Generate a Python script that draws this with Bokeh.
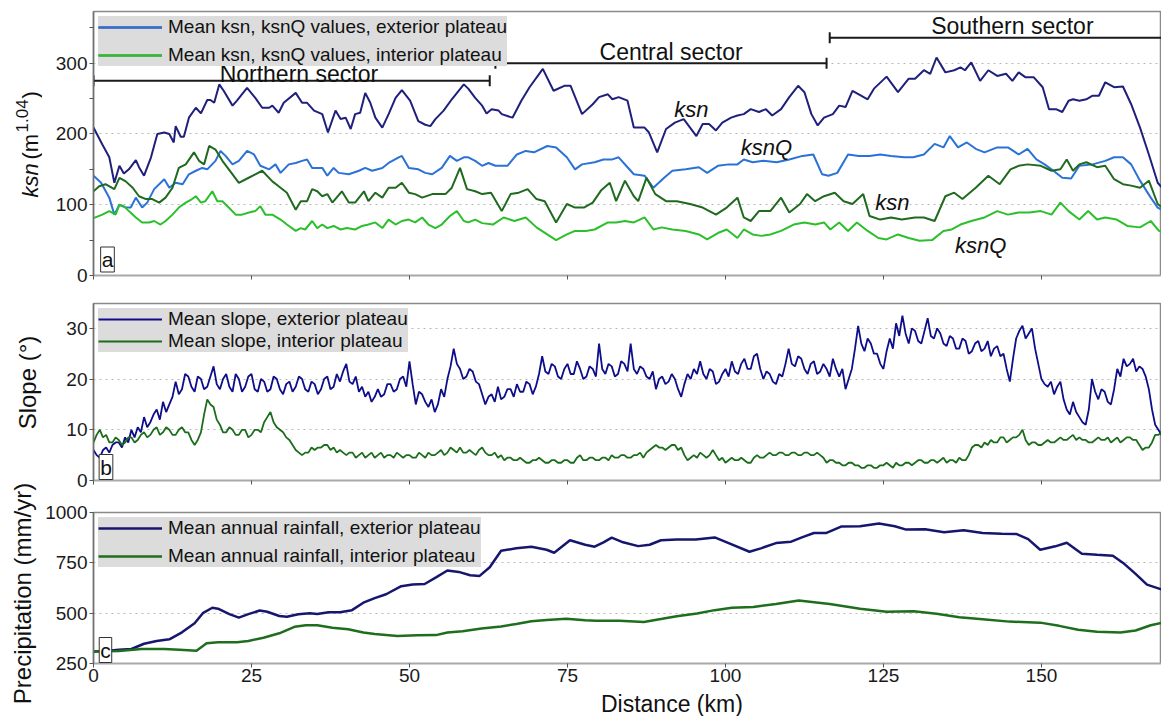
import numpy as np
from bokeh.plotting import figure
from bokeh.layouts import column, row
from bokeh.models import Range1d, FixedTicker, Label, Legend, LegendItem
from bokeh.embed import file_html
from bokeh.resources import INLINE

FONT = "Liberation Sans"

# ---------------- data ----------------
x_ticks = [0, 25, 50, 75, 100, 125, 150]

ksn_ext_km = [0, 1.4, 2.5, 3.3, 4.1, 4.8, 5.6, 6.7, 7.2, 8.0, 9.1, 10.1, 11.2, 12.0, 12.7, 13.0, 13.8, 14.3, 15.1, 16.2, 17.0, 18.0, 18.5, 19.1, 19.9, 20.6, 22.0, 22.7, 24.3, 25.6, 26.7, 27.8, 28.3, 29.3, 30.1, 32.0, 33.0, 33.8, 34.9, 36.2, 37.1, 38.3, 39.1, 39.9, 40.7, 41.4, 42.2, 43.0, 43.8, 44.6, 45.7, 46.7, 47.8, 48.8, 50.1, 51.4, 52.5, 53.3, 54.1, 55.4, 56.7, 58.6, 59.3, 60.4, 61.5, 62.2, 63.0, 64.1, 64.6, 66.3, 67.7, 69, 71.1, 72.8, 74.5, 75.5, 77.3, 79, 80, 81.4, 82.1, 83.1, 84.5, 85.5, 87.2, 87.9, 89.2, 90.6, 92, 93.4, 94.4, 95.4, 96.4, 97.4, 98.5, 99.5, 100.9, 101.9, 102.9, 104, 105.3, 106.4, 107.4, 108.8, 110.1, 111.5, 112.5, 113.6, 114.6, 115.6, 117, 118, 119, 120.1, 121.1, 122.5, 123.5, 125.5, 127.3, 129, 130, 131.4, 132.4, 133.4, 134.8, 136.2, 137.2, 137.9, 138.9, 140.3, 141.6, 143, 144.4, 145.4, 146.4, 147.5, 148.8, 150.2, 151.2, 152.3, 153.3, 154.3, 155, 156, 157.1, 158.1, 159.1, 160.1, 161.5, 162.9, 164.2, 165.6, 167, 168.4, 169]
ksn_ext = [209, 185, 167, 131, 155, 144, 150, 163, 153, 141, 167, 200, 202, 200, 188, 211, 196, 196, 223, 237, 229, 248, 248, 244, 270, 261, 240, 247, 265, 251, 237, 237, 240, 230, 244, 258, 244, 244, 233, 228, 202, 233, 221, 223, 207, 228, 230, 258, 244, 223, 209, 228, 251, 262, 247, 218, 213, 211, 221, 233, 249, 270, 264, 251, 240, 229, 235, 233, 228, 223, 247, 266, 292, 261, 268, 268, 228, 242, 252, 256, 249, 252, 247, 209, 209, 202, 174, 207, 216, 221, 209, 197, 214, 214, 205, 216, 223, 226, 228, 235, 231, 235, 226, 235, 252, 268, 259, 228, 212, 223, 228, 240, 238, 261, 256, 249, 264, 281, 259, 278, 278, 290, 285, 308, 287, 290, 294, 290, 301, 275, 290, 282, 285, 275, 287, 280, 280, 266, 235, 235, 231, 247, 249, 247, 249, 254, 254, 273, 266, 267, 242, 209, 171, 131, 125]

ksnq_ext_km = [0, 1.2, 2.5, 3.3, 4.1, 5.1, 5.9, 6.7, 7.7, 8.5, 9.6, 11.2, 12, 13, 14.1, 15.1, 16.2, 17.2, 18, 19.3, 20.1, 20.9, 22, 23, 24.3, 25.4, 26.4, 27.8, 28.8, 29.6, 30.9, 32, 33, 33.8, 34.6, 36.2, 37, 38, 38.8, 40.4, 42, 43, 44.1, 45.7, 46.7, 48.3, 48.8, 49.9, 51.4, 52.5, 53.6, 55.1, 56.4, 57.5, 58.6, 59.3, 60.4, 61.5, 62.5, 63.6, 65.5, 67, 68.4, 69.7, 71.8, 73.2, 74.9, 76.2, 77.3, 79.3, 80.7, 82.1, 83.1, 84.5, 85.5, 87.2, 88.6, 90.3, 91.6, 93.7, 95.8, 97.1, 98.8, 100.5, 101.9, 102.9, 104.3, 106, 108.1, 110.1, 112.2, 113.9, 115.3, 116.3, 117.7, 119.4, 121.1, 122.8, 124.5, 126.2, 128.3, 129.7, 131.4, 133.1, 134.5, 135.5, 136.8, 138.2, 139.6, 141, 143, 144.7, 146.4, 147.8, 149.2, 150.5, 151.9, 153.3, 154.7, 156, 158.1, 160.1, 161.5, 162.9, 164.2, 165.6, 167.3, 168.4, 169]
ksnq_ext = [141, 131, 110, 86, 100, 96, 96, 110, 96, 103, 122, 136, 124, 131, 129, 143, 148, 152, 150, 162, 176, 169, 157, 162, 176, 171, 155, 150, 157, 145, 157, 159, 162, 164, 152, 152, 141, 152, 145, 143, 148, 152, 148, 152, 159, 167, 169, 152, 150, 145, 143, 152, 169, 162, 167, 167, 162, 155, 159, 155, 155, 171, 176, 174, 183, 181, 167, 150, 157, 160, 164, 164, 167, 153, 143, 141, 124, 138, 148, 150, 153, 145, 155, 157, 157, 164, 160, 162, 160, 164, 169, 171, 143, 141, 145, 171, 169, 169, 171, 169, 167, 167, 171, 186, 181, 197, 181, 188, 179, 174, 181, 181, 171, 179, 164, 157, 148, 138, 137, 155, 157, 162, 167, 167, 157, 134, 110, 96, 93]

ksn_int_km = [0, 0.9, 1.9, 3.3, 4.1, 5.1, 6.2, 7.2, 8.3, 9.3, 10.4, 11.4, 12.5, 13.5, 14.6, 15.9, 16.7, 17.5, 18.3, 19.3, 20.4, 22, 23, 24.1, 25.6, 26.7, 28.3, 29.3, 30.6, 32, 32.8, 33.8, 34.6, 35.4, 36.2, 37, 37.8, 39.3, 40.4, 41.4, 42.8, 43.5, 44.6, 45.7, 46.7, 47.8, 48.8, 49.9, 50.9, 52, 53.6, 55.7, 56.7, 58, 59.1, 60.4, 61.5, 62.9, 64.6, 66, 67.3, 68.7, 70.1, 71.4, 73.2, 74.9, 76.2, 77.6, 79, 80.3, 81.7, 82.7, 84.1, 85.5, 86.2, 87.5, 88.9, 90.6, 92.3, 94.4, 96.4, 98.5, 100.2, 101.9, 102.9, 104, 105.3, 107.1, 108.8, 110.1, 111.8, 112.9, 114.2, 115.6, 117.3, 118.7, 120.1, 121.8, 122.8, 124.5, 126.2, 127.9, 130, 131.4, 133.1, 134.8, 136.2, 137.5, 139.6, 141.6, 143.4, 145.1, 146.4, 147.8, 149.9, 151.6, 153, 154, 155, 156, 157.1, 158.8, 160.1, 161.5, 162.9, 164.2, 165.6, 167, 168.4, 169]
ksn_int = [119, 126, 129, 122, 138, 133, 124, 112, 108, 108, 103, 110, 124, 152, 157, 174, 162, 157, 183, 178, 162, 143, 131, 136, 143, 148, 133, 126, 117, 93, 105, 105, 122, 119, 112, 115, 103, 119, 103, 103, 119, 105, 117, 110, 124, 124, 131, 117, 115, 110, 115, 115, 124, 152, 122, 119, 115, 117, 91, 115, 117, 122, 108, 105, 75, 101, 96, 96, 103, 120, 131, 105, 134, 112, 105, 138, 115, 105, 105, 101, 96, 86, 96, 110, 82, 77, 91, 91, 110, 89, 101, 115, 105, 112, 117, 105, 101, 115, 84, 79, 82, 79, 82, 82, 77, 112, 117, 108, 124, 141, 129, 150, 155, 157, 155, 148, 150, 164, 148, 157, 160, 153, 155, 136, 129, 127, 124, 134, 101, 97]

ksnq_int_km = [0, 1.4, 2.5, 3.5, 4.1, 4.8, 5.6, 6.7, 7.7, 8.8, 9.6, 10.6, 11.4, 12.5, 13.5, 14.6, 15.6, 16.2, 17, 17.7, 18.8, 19.6, 20.4, 21.4, 22.5, 23.5, 24.6, 25.6, 26.4, 27.2, 28.3, 29.6, 30.6, 32, 32.8, 33.5, 34.6, 35.4, 36.2, 37, 38, 39.1, 40.1, 41.4, 42.5, 43.5, 44.6, 45.7, 46.7, 47.8, 48.8, 49.9, 50.9, 52, 53, 54.1, 55.1, 56.4, 57.5, 58.6, 59.3, 60.4, 61.5, 63.2, 64.9, 66.6, 68.4, 70.1, 71.8, 73.2, 74.9, 76.2, 77.9, 79.3, 81.4, 82.7, 84.1, 85.5, 87.2, 88.6, 89.9, 91.6, 93.7, 95.8, 97.1, 98.8, 100.2, 101.9, 102.9, 104.3, 105.7, 107.1, 108.8, 110.8, 112.5, 114.2, 115.6, 116.6, 118, 119.4, 120.8, 122.5, 124.2, 125.5, 127.3, 129, 130.7, 132.7, 134.5, 135.8, 137.2, 138.9, 141, 143, 144.7, 146.4, 148.1, 149.9, 151.6, 153, 154.3, 156, 157.4, 158.8, 160.1, 161.9, 163.6, 165.6, 167.3, 168.6, 169]
ksnq_int = [81, 86, 91, 86, 100, 98, 91, 82, 75, 75, 77, 72, 77, 86, 96, 103, 108, 112, 103, 105, 119, 105, 105, 96, 86, 86, 89, 91, 98, 86, 86, 79, 72, 63, 67, 65, 77, 67, 72, 67, 70, 65, 67, 65, 70, 72, 75, 67, 79, 72, 77, 79, 75, 82, 72, 67, 72, 84, 91, 77, 75, 79, 74, 72, 82, 77, 82, 68, 58, 50, 58, 63, 63, 65, 75, 75, 77, 75, 82, 65, 68, 65, 63, 58, 51, 60, 65, 53, 65, 58, 56, 58, 63, 72, 75, 72, 75, 65, 75, 63, 75, 63, 53, 51, 58, 53, 49, 50, 63, 65, 72, 77, 82, 91, 86, 89, 89, 91, 86, 103, 91, 79, 91, 79, 82, 79, 70, 68, 77, 63, 62]

# slope profiles, sampled every 0.5 km from 0 to 169 km
slope_km = [i * 0.5 for i in range(339)]
slope_ext = [6, 5, 4.5, 6, 6.5, 5.5, 7, 7.5, 7.5, 6.5, 8.5, 7.5, 10, 8.5, 10.5, 9.5, 12.5, 10.5, 11.5, 13,
             14, 12, 15.5, 13.5, 15, 16.5, 19.5, 17, 18, 21, 20.5, 18.5, 17.5, 20.5, 20, 18, 18.5, 20.5, 22.5, 19,
             18, 20, 21, 18.5, 17.5, 21, 20, 17.5, 18.5, 20.5, 21, 18, 17.5, 20, 19.5, 17.5, 18, 20.5, 20, 18,
             17, 19, 19.5, 17.5, 18.5, 20.5, 20, 18, 17.5, 19.5, 19, 17, 18, 20, 20.5, 18, 18.5, 21, 19.5, 21.5,
             23, 19.5, 19, 20.5, 17.5, 18.5, 16.5, 17.5, 15.5, 16.5, 18, 16.5, 17, 19, 19, 17.5, 18, 20, 20.5, 18.5,
             23.5, 19, 15, 17.5, 17, 15.5, 14.5, 16, 13.5, 15, 18, 16.5, 20, 22.5, 26, 23, 22, 20, 20.5, 22,
             21.5, 19.5, 19, 17, 15, 16.5, 17, 15.5, 18.5, 16, 16.5, 18, 18, 16.5, 19, 17.5, 17.5, 19.5, 19, 17,
             18.5, 21, 24.5, 21.5, 21, 23, 22.5, 20.5, 20, 22, 23, 21, 21, 23.5, 22, 20, 20.5, 22.5, 22, 20.5,
             27, 22, 21, 23, 22.5, 20.5, 21, 23.5, 23, 21.5, 27, 22, 21, 22.5, 22, 20.5, 20, 21.5, 18, 20,
             20.5, 19, 19.5, 21, 20, 18, 16.5, 19, 21, 20, 22, 21, 23.5, 21, 20, 22, 21.5, 19, 19.5, 21,
             22, 20.5, 23.5, 21.5, 21, 23, 24, 22, 22, 24.5, 25, 22, 20, 21.5, 21, 19.5, 19, 21, 20.5, 23,
             26, 23, 22.5, 24.5, 24, 22, 21, 23, 23.5, 21, 21.5, 23, 22, 20.5, 24, 22, 20.5, 22, 18, 20,
             22, 26, 30.5, 27, 25.5, 28, 27, 25, 25, 23, 22, 25.5, 28, 26, 31, 28.5, 32.5, 29, 27, 30,
             29.5, 27.5, 27, 29.5, 32, 28.5, 28, 30, 29, 27, 26.5, 28.5, 28, 26, 26, 28, 27.5, 25, 25.5, 27,
             27.5, 25.5, 26, 27.5, 24.5, 26, 26.5, 24.5, 25, 22, 19.5, 24, 28, 29.5, 30.5, 28, 29, 30, 26, 23,
             20, 19, 18.5, 19.5, 17, 18.5, 19.5, 16, 14, 13, 15.5, 13.5, 12.5, 11.5, 11, 14, 20, 17.5, 16, 18,
             17.5, 15.5, 15, 18, 22, 20.5, 24, 22.5, 23, 24, 21.5, 22.5, 22, 20.5, 18, 14, 11, 10, 9]
slope_int = [7.5, 9, 10, 8.5, 9, 7.5, 7.5, 8.5, 8, 7, 7.5, 8.5, 8.5, 7.5, 8, 9, 9.5, 8.5, 9, 10,
             10.5, 9, 9.5, 10.5, 10, 9, 9, 10, 10.5, 9.5, 9.5, 8, 7, 8, 9.5, 13, 16, 15, 14.5, 12,
             11, 9.5, 9.5, 10.5, 10, 9, 9, 10, 10, 8.5, 9, 10, 10, 9.5, 11.5, 12.5, 13.5, 11.5, 10.5, 10,
             9.5, 8.5, 8, 7, 6, 5.5, 5, 5.5, 5.5, 6.5, 6, 6.5, 6.5, 7, 7, 6, 6.5, 5.5, 6, 5.5,
             5, 5.5, 5.5, 4.5, 5, 5.5, 4.5, 5, 5.5, 4.5, 5, 5.5, 4.5, 5, 5, 4.5, 5.5, 5, 4.5, 5,
             5, 4.5, 4.5, 5.5, 5, 4.5, 5.5, 5, 5, 5.5, 6, 5, 5.5, 6.5, 6, 5.5, 6.5, 5.5, 5.5, 6,
             5.5, 5, 6, 6.5, 5.5, 5, 5, 5.5, 4.5, 5, 4, 4.5, 4.5, 4, 4, 4.5, 4, 3.5, 3.5, 4,
             4, 4.5, 4, 3.5, 3.5, 4, 4, 3.5, 3.5, 4, 4, 3.5, 3.5, 4.5, 5, 4, 4, 4.5, 4.5, 4,
             4, 4.5, 4.5, 4, 5, 4.5, 4.5, 5, 5, 4.5, 4.5, 5, 5, 5.5, 4.5, 5.5, 6, 6.5, 7, 6.5,
             6.5, 6, 6.5, 7, 7, 6, 6.5, 5, 4, 4.5, 5, 4.5, 5.5, 5, 4.5, 5, 6, 5, 4, 4.5,
             3.5, 4, 4.5, 4, 4, 4.5, 4, 3.5, 3.5, 4.5, 5, 4.5, 4.5, 5, 5.5, 5, 5, 5.5, 5.5, 5,
             5, 5.5, 5.5, 5, 5, 5.5, 5.5, 5, 5, 5.5, 5, 4.5, 3.5, 4, 4, 3.5, 3.5, 3, 3, 3.5,
             3.5, 3, 3, 2.5, 2.5, 3, 3, 2.5, 2.5, 3, 3, 3.5, 3, 2.5, 3.5, 3, 3, 3.5, 3.5, 3,
             3.5, 4, 4, 3.5, 3.5, 4, 4, 3.5, 4, 4.5, 3.5, 4, 4, 3.5, 4.5, 4, 4, 5, 6.5, 7,
             7, 6.5, 7.5, 7, 8, 7.5, 7.5, 8.5, 8.5, 7.5, 8, 8.5, 8.5, 9, 10, 8, 7, 7.5, 7.5, 7,
             7, 7.5, 8, 7.5, 7.5, 8, 8.5, 8, 8, 8.5, 9, 8, 8.5, 8, 8, 7.5, 7.5, 8, 8.5, 8,
             8, 8.5, 7.5, 8, 8.5, 7.5, 8, 8.5, 8.5, 8, 8, 7, 6, 6.5, 6.5, 7.5, 9, 9, 9.5]

rain_ext_km = [0, 2, 4, 6, 8, 10, 12, 14, 16, 17.3, 18.8, 19.7, 21.5, 23, 24.5, 26.3, 27.5, 29.4, 30.6, 32.4, 34.2, 35.4, 37.2, 39, 40.9, 42.7, 44.5, 46.3, 48.7, 50.5, 52.4, 54.2, 56, 57.8, 59.6, 61.1, 62.7, 64.5, 66.9, 69.3, 71.7, 72.9, 75.4, 77.8, 79.3, 80.7, 82, 83.8, 86.2, 88, 89.8, 92.3, 95.3, 98.3, 100.7, 103.8, 105.6, 108, 110.4, 112.2, 114, 115.9, 118.3, 121.3, 124.3, 126.8, 128.6, 131.6, 134.6, 137.7, 140.7, 143.7, 146.1, 147.9, 149.8, 152.2, 154, 156.4, 158.8, 161.3, 163.1, 164.9, 166.7, 169]
rain_ext = [310, 312, 318, 322, 348, 362, 370, 405, 450, 500, 527, 522, 495, 478, 495, 513, 507, 486, 482, 495, 500, 496, 505, 505, 515, 552, 575, 594, 634, 642, 645, 678, 712, 705, 688, 685, 728, 810, 822, 830, 815, 800, 862, 840, 830, 852, 875, 852, 833, 840, 862, 866, 866, 876, 845, 805, 822, 848, 855, 878, 898, 898, 930, 932, 945, 932, 915, 917, 902, 912, 898, 895, 893, 868, 815, 832, 850, 795, 790, 785, 745, 695, 642, 618]

rain_int_km = [0, 4, 7.6, 11.2, 13.6, 16.3, 17.9, 19.7, 22.7, 24.5, 26.9, 29.4, 31.8, 33.6, 35.4, 37.8, 40.3, 42.7, 44.5, 48.1, 51.2, 54.2, 56, 58.4, 61.4, 64.5, 66.9, 69.3, 71.7, 74.8, 77.8, 79.5, 83.2, 87.1, 90, 92.3, 95.5, 98.3, 101, 104.4, 108, 111.6, 116.5, 121.3, 125.5, 129.8, 133.4, 137, 140.7, 144.9, 149.8, 152.8, 155.8, 158.8, 162.5, 164.9, 167.3, 169]
rain_int = [310, 312, 322, 322, 318, 313, 350, 356, 356, 362, 378, 400, 432, 440, 440, 428, 420, 404, 396, 387, 390, 391, 404, 410, 424, 434, 446, 460, 466, 472, 465, 462, 462, 456, 472, 485, 498, 515, 527, 531, 545, 563, 545, 522, 507, 510, 497, 480, 470, 458, 453, 437, 418, 408, 404, 414, 440, 452]

sector_names = ["Northern sector", "Central sector", "Southern sector"]
sector_start = [0, 63.6, 116.5]
sector_end = [62.7, 116.0, 172.0]
sector_level = [275, 300, 336]
sector_label_x = [32.5, 91.4, 145.4]
sector_label_y = [284, 316, 352]

curve_names = ["ksn", "ksnQ", "ksn", "ksnQ"]
curve_label_x = [94.6, 106.5, 126.4, 140.4]
curve_label_y = [234, 181, 103, 42]

# ---------------- layout constants ----------------
TOTAL_W, TOTAL_H = 1161, 716
LW = 42                      # strip holding the y-axis titles
W = TOTAL_W - LW             # width of the panel column
LEFT = 91 - LW               # left border of each panel
X_MAX = 169.0
YA = (0, 373)
YB = (0, 34.9)
YC = (250, 1000)

C_KSN_EXT = "#1f1f7c"
C_KSNQ_EXT = "#2a72d6"
C_KSN_INT = "#206a20"
C_KSNQ_INT = "#2cbf2c"
C_SL_EXT = "#0e0e8a"
C_SL_INT = "#1b6d1b"
C_R_EXT = "#16166e"
C_R_INT = "#1e6e1e"
TXT = "#111111"

xr = Range1d(0, X_MAX)


def make_fig(height, top, bottom, yrange, yticks, yminor):
    p = figure(width=W, height=height, x_range=xr, y_range=Range1d(*yrange),
               output_backend="svg", toolbar_location=None,
               min_border_left=LEFT, min_border_right=0,
               min_border_top=top, min_border_bottom=bottom)
    p.background_fill_color = "white"
    p.border_fill_color = "white"
    p.outline_line_color = "#8a8a8a"
    p.outline_line_width = 1.5
    p.xgrid.visible = False
    yt = FixedTicker(ticks=yticks, minor_ticks=yminor)
    p.yaxis.ticker = yt
    p.ygrid.ticker = yt
    p.ygrid.grid_line_color = "#b8b8b8"
    p.ygrid.grid_line_dash = "dotted"
    p.xaxis.ticker = FixedTicker(ticks=x_ticks)
    for ax in (p.xaxis[0], p.yaxis[0]):
        ax.major_tick_in = 0
        ax.major_tick_out = 4
        ax.minor_tick_in = 0
        ax.minor_tick_out = 4
        ax.major_tick_line_color = "#555555"
        ax.minor_tick_line_color = "#555555"
        ax.major_label_text_font = FONT
        ax.major_label_text_font_size = "19px"
        ax.major_label_text_color = "#1a1a1a"
        ax.major_label_standoff = 2
    p.xaxis.major_label_standoff = 1
    p.yaxis.axis_line_color = "#707070"
    p.yaxis.axis_line_width = 1.5
    p.xaxis.axis_line_color = "#a8a8a8"
    p.xaxis.axis_line_width = 1.5
    return p


def hide_xlabels(p):
    p.xaxis.major_label_overrides = {t: "" for t in x_ticks}
    p.xaxis.major_label_text_font_size = "1px"
    p.xaxis.major_label_standoff = 0


def style_legend(leg, padding, spacing, margin):
    leg.location = "top_left"
    leg.background_fill_color = "#dcdcdc"
    leg.background_fill_alpha = 1.0
    leg.border_line_color = None
    leg.label_text_font = FONT
    leg.label_text_font_size = "19px"
    leg.label_text_color = TXT
    leg.glyph_width = 64
    leg.glyph_height = 22
    leg.label_height = 22
    leg.label_standoff = 6
    leg.padding = padding
    leg.spacing = spacing
    leg.margin = margin


def letter(p, text, xkm, yval):
    p.add_layout(Label(x=xkm, y=yval, text=text, text_font=FONT,
                       text_font_size="21px", text_color=TXT,
                       text_align="center", text_baseline="middle",
                       background_fill_color="white", border_line_color="#333333",
                       border_line_width=1, padding=1))


PXKM = (TOTAL_W - 91) / X_MAX

# ---------------- panel a ----------------
A_TOP, A_BOT = 11, 275
def va(px):
    return (A_BOT - px) * (YA[1] - YA[0]) / (A_BOT - A_TOP) + YA[0]

pa = make_fig(290, A_TOP, 290 - A_BOT, YA, [0, 100, 200, 300], [50, 150, 250, 350])
hide_xlabels(pa)
r1 = pa.line(ksn_ext_km, ksn_ext, line_color=C_KSN_EXT, line_width=2)
r2 = pa.line(ksnq_ext_km, ksnq_ext, line_color=C_KSNQ_EXT, line_width=2)
r3 = pa.line(ksn_int_km, ksn_int, line_color=C_KSN_INT, line_width=2)
r4 = pa.line(ksnq_int_km, ksnq_int, line_color=C_KSNQ_INT, line_width=2)

pa.segment(x0=sector_start, y0=sector_level, x1=sector_end, y1=sector_level,
           line_color="#1a1a1a", line_width=2)
pa.scatter(x=sector_start + sector_end, y=sector_level + sector_level, marker="dash",
           angle=np.pi / 2, size=11, line_color="#1a1a1a", line_width=2)
pa.text(x=sector_label_x, y=sector_label_y, text=sector_names, text_align="center",
        text_baseline="middle", text_font_size="23px", text_color=TXT,
        text_font={"value": FONT})
pa.text(x=curve_label_x, y=curve_label_y, text=curve_names, text_align="center",
        text_baseline="middle", text_font_size="22px", text_color=TXT,
        text_font_style="italic", text_font={"value": FONT})

lega = Legend(items=[LegendItem(label="Mean ksn, ksnQ values, exterior plateau", renderers=[r1, r2]),
                     LegendItem(label="Mean ksn, ksnQ values, interior plateau", renderers=[r3, r4])])
style_legend(lega, 1, 6, 5)
pa.add_layout(lega)
letter(pa, "a", (105 - 91) / PXKM, va(259))

# ---------------- panel b ----------------
B_Y0, B_H = 290, 202
B_TOP, B_BOT = 303, 480
def vb(px):
    return (B_BOT - px) * (YB[1] - YB[0]) / (B_BOT - B_TOP) + YB[0]

pb = make_fig(B_H, B_TOP - B_Y0, B_Y0 + B_H - B_BOT, YB, [0, 10, 20, 30], [])
hide_xlabels(pb)
s1 = pb.line(slope_km, slope_ext, line_color=C_SL_EXT, line_width=1.8)
s2 = pb.line(slope_km, slope_int, line_color=C_SL_INT, line_width=1.8)
legb = Legend(items=[LegendItem(label="Mean slope, exterior plateau", renderers=[s1]),
                     LegendItem(label="Mean slope, interior plateau", renderers=[s2])])
style_legend(legb, 2, 0, 5)
pb.add_layout(legb)
letter(pb, "b", (103.5 - 91) / PXKM, vb(466.5))

# ---------------- panel c ----------------
C_Y0, C_H = 492, 198
C_TOP, C_BOT = 512, 663
def vc(px):
    return (C_BOT - px) * (YC[1] - YC[0]) / (C_BOT - C_TOP) + YC[0]

pc = make_fig(C_H, C_TOP - C_Y0, C_Y0 + C_H - C_BOT, YC, [250, 500, 750, 1000], [])
q1 = pc.line(rain_ext_km, rain_ext, line_color=C_R_EXT, line_width=2.5)
q2 = pc.line(rain_int_km, rain_int, line_color=C_R_INT, line_width=2.5)
legc = Legend(items=[LegendItem(label="Mean annual rainfall, exterior plateau", renderers=[q1]),
                     LegendItem(label="Mean annual rainfall, interior plateau", renderers=[q2])])
style_legend(legc, 1, 6, 5)
pc.add_layout(legc)
letter(pc, "c", (103 - 91) / PXKM, vc(649.5))

# ---------------- strip for the x-axis title ----------------
BOT_H = TOTAL_H - (C_Y0 + C_H)
pbot = figure(width=W, height=BOT_H, x_range=Range1d(0, W), y_range=Range1d(0, BOT_H),
              output_backend="svg", toolbar_location=None, min_border=0)
pbot.axis.visible = False
pbot.grid.visible = False
pbot.outline_line_color = None
pbot.text(x=[648 - LW], y=[BOT_H / 2], text=["Distance (km)"], text_align="center",
          text_baseline="middle", text_font_size="23px", text_color=TXT,
          text_font={"value": FONT})

# ---------------- strip for the y-axis titles ----------------
pleft = figure(width=LW, height=TOTAL_H, x_range=Range1d(0, LW), y_range=Range1d(0, TOTAL_H),
               output_backend="svg", toolbar_location=None, min_border=0)
pleft.axis.visible = False
pleft.grid.visible = False
pleft.outline_line_color = None

def yl(px):
    return TOTAL_H - px

# ksn (m^1.04): pieces laid along the rotated text line
pleft.text(x=[30], y=[yl(197)], text=["ksn"], angle=np.pi / 2, text_align="left",
           text_baseline="middle", text_font_size="22px", text_font_style="italic",
           text_color=TXT, text_font={"value": FONT})
pleft.text(x=[30], y=[yl(159)], text=["(m"], angle=np.pi / 2, text_align="left",
           text_baseline="middle", text_font_size="22px", text_color=TXT,
           text_font={"value": FONT})
pleft.text(x=[21], y=[yl(132)], text=["1.04"], angle=np.pi / 2, text_align="left",
           text_baseline="middle", text_font_size="17px", text_color=TXT,
           text_font={"value": FONT})
pleft.text(x=[30], y=[yl(98)], text=[")"], angle=np.pi / 2, text_align="left",
           text_baseline="middle", text_font_size="22px", text_color=TXT,
           text_font={"value": FONT})
pleft.text(x=[27], y=[yl(382)], text=["Slope (°)"], angle=np.pi / 2, text_align="center",
           text_baseline="middle", text_font_size="24px", text_color=TXT,
           text_font={"value": FONT})
pleft.text(x=[22], y=[yl(593)], text=["Precipitation (mm/yr)"], angle=np.pi / 2,
           text_align="center", text_baseline="middle", text_font_size="24px",
           text_color=TXT, text_font={"value": FONT})

layout = row(pleft, column(pa, pb, pc, pbot))
open("out.html", "w").write(file_html(layout, INLINE))
